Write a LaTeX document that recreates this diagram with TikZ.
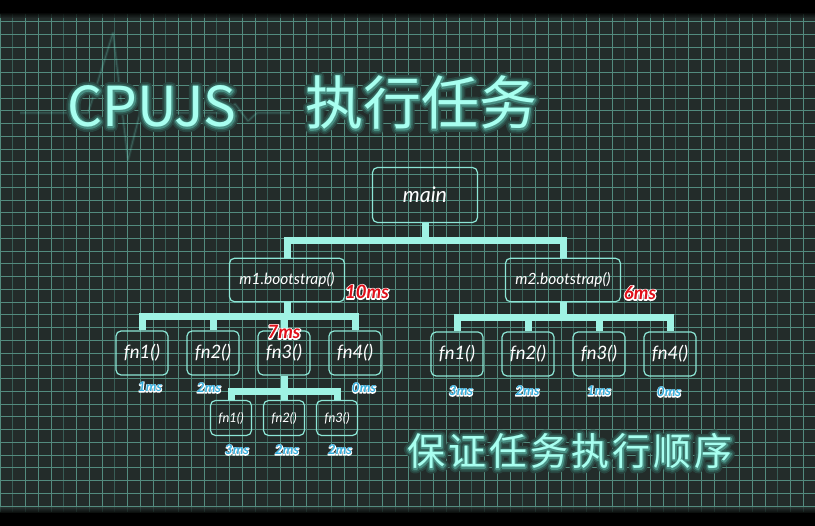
\documentclass[tikz,border=0pt]{standalone}
\usepackage{fontspec}
\setmainfont{Lato}
\newfontfamily\cjk{Noto Sans CJK SC}
\newfontfamily\cjkwide{Noto Sans CJK SC}[LetterSpace=8]
\usetikzlibrary{positioning}
\definecolor{bgc}{HTML}{232C2A}
\definecolor{gridc}{HTML}{538B7E}
\definecolor{griddim}{HTML}{385D56}
\definecolor{linec}{HTML}{9FF3E4}
\definecolor{boxc}{HTML}{8CE6D6}
\definecolor{titlec}{HTML}{A8FFF0}
\definecolor{glowc}{HTML}{4FD8C0}
\definecolor{redc}{HTML}{E0101A}
\definecolor{bluec}{HTML}{34AEDD}
% stroked copy of a text (render mode 1): #1 width, #2 rgb
\newcommand{\strk}[3]{\rlap{\special{pdf:literal direct 1 Tr 1 j #1 w #2 RG}#3\special{pdf:literal direct 0 Tr}}}
% white rim under the coloured text
\newcommand{\rim}[2]{\strk{#1}{1 1 1}{#2}#2}
% soft halo under the title text
\newcommand{\halo}[1]{\strk{9}{0.16 0.27 0.25}{#1}\strk{5.5}{0.20 0.38 0.35}{#1}\strk{2.5}{0.29 0.57 0.52}{#1}#1}

\begin{document}
\begin{tikzpicture}[
        x=1pt, y=-1pt,
        on grid,
        box/.style={draw=boxc, line width=1.2pt, rounded corners=5pt, inner sep=0pt,
            text=white, font=\itshape},
        mainbox/.style={box, minimum width=105pt, minimum height=55pt, font=\itshape\fontsize{21.5}{21.5}\selectfont},
        modbox/.style={box, minimum width=115pt, minimum height=43.5pt, font=\itshape\fontsize{15.5}{15.5}\selectfont},
        fnbox/.style={box, minimum width=52pt, minimum height=44pt, font=\itshape\fontsize{18.5}{18.5}\selectfont},
        subbox/.style={box, minimum width=41pt, minimum height=35pt, font=\itshape\fontsize{13}{13}\selectfont},
        bus/.style={draw=linec, line width=7pt},
        title/.style={anchor=base, text=titlec, inner sep=0pt},
        redtag/.style={text=redc, inner sep=0pt, font=\bfseries\itshape\fontsize{18.5}{18.5}\selectfont},
        bluetag/.style={text=bluec, inner sep=0pt, font=\bfseries\itshape\fontsize{13.5}{13.5}\selectfont}
    ]
\useasboundingbox (0,0) rectangle (815,526);
% background and grid
\fill[bgc] (0,0) rectangle (815,526);
\foreach \i in {0,...,64}
    \draw[gridc, line width=0.6pt] (12.75*\i,14) -- (12.75*\i,512);
\foreach \i in {1,5,...,61}
    \draw[griddim, line width=0.6pt] (12.75*\i,14) -- (12.75*\i,512);
\foreach \k in {1,...,39}
    \draw[gridc, line width=0.6pt] (0,8.8+12.75*\k) -- (815,8.8+12.75*\k);
\fill[black] (0,0) rectangle (815,13);
\shade[top color=black, bottom color=bgc, opacity=0.8] (0,13) rectangle (815,18);
\fill[black] (0,513) rectangle (815,526);
\shade[top color=bgc, bottom color=black, opacity=0.8] (0,508) rectangle (815,513);
% faint pulse behind the title
\draw[glowc, line width=3pt, opacity=0.12, line join=round]
    (20,113) -- (88,113) -- (113,33) -- (128,160) -- (140,113) -- (226,113)
    -- (235,104) -- (248,121) -- (257,113) -- (290,113);
\draw[titlec, line width=1pt, opacity=0.15, line join=round]
    (20,113) -- (88,113) -- (113,33) -- (128,160) -- (140,113) -- (226,113)
    -- (235,104) -- (248,121) -- (257,113) -- (290,113);

% titles
\node[title, font=\cjk\fontsize{55}{55}\selectfont] (ttl) at (152,127) {\halo{CPUJS}};
\node[title, font=\cjk\fontsize{58}{58}\selectfont] (ttlcn) at (421.5,125) {\halo{执行任务}};
\node[title, font=\cjkwide\fontsize{38}{38}\selectfont] (note) at (570,466) {\halo{保证任务执行顺序}};

% tree
\node[mainbox] (main) at (425,195) {main};
\node[modbox, below left=85pt and 138pt of main] (m1) {m1.bootstrap()};
\node[modbox, below right=85pt and 138pt of main] (m2) {m2.bootstrap()};

\node[fnbox, below left=73pt and 145pt of m1] (a1) {fn1()};
\node[fnbox, right=71pt of a1] (a2) {fn2()};
\node[fnbox, right=71pt of a2] (a3) {fn3()};
\node[fnbox, right=71pt of a3] (a4) {fn4()};

\node[fnbox, below left=74pt and 106pt of m2] (b1) {fn1()};
\node[fnbox, right=71pt of b1] (b2) {fn2()};
\node[fnbox, right=71pt of b2] (b3) {fn3()};
\node[fnbox, right=71pt of b3] (b4) {fn4()};

\node[subbox, below=65pt of a3] (c2) {fn2()};
\node[subbox, left=53pt of c2] (c1) {fn1()};
\node[subbox, right=53pt of c2] (c3) {fn3()};

\draw[bus] (main.south) -- ++(0,17.5) -| (m1.north);
\draw[bus] (main.south) -- ++(0,17.5) -| (m2.north);
\foreach \n in {a1,a2,a3,a4}
    \draw[bus] (m1.south) -- ++(0,14.5) -| (\n.north);
\foreach \n in {b1,b2,b3,b4}
    \draw[bus] (m2.south) -- ++(0,15.5) -| (\n.north);
\foreach \n in {c1,c2,c3}
    \draw[bus] (a3.south) -- ++(0,16) -| (\n.north);

% timings
\node[redtag] (t1) at (367,292) {\rim{2.4}{10ms}};
\node[redtag] (t2) at (640,293) {\rim{2.4}{6ms}};
\node[redtag] (t3) at (284,332) {\rim{2.4}{7ms}};
\node[bluetag] (ta1) at (150,387) {\rim{1.6}{1ms}};
\node[bluetag] (ta2) at (209,388) {\rim{1.6}{2ms}};
\node[bluetag] (ta4) at (364,388) {\rim{1.6}{0ms}};
\node[bluetag] (tb1) at (461,391) {\rim{1.6}{3ms}};
\node[bluetag] (tb2) at (527.5,391) {\rim{1.6}{2ms}};
\node[bluetag] (tb3) at (599,391) {\rim{1.6}{1ms}};
\node[bluetag] (tb4) at (669,392) {\rim{1.6}{0ms}};
\node[bluetag] (tc1) at (237,450) {\rim{1.6}{3ms}};
\node[bluetag] (tc2) at (287,450) {\rim{1.6}{2ms}};
\node[bluetag] (tc3) at (340,450) {\rim{1.6}{2ms}};
\end{tikzpicture}
\end{document}
